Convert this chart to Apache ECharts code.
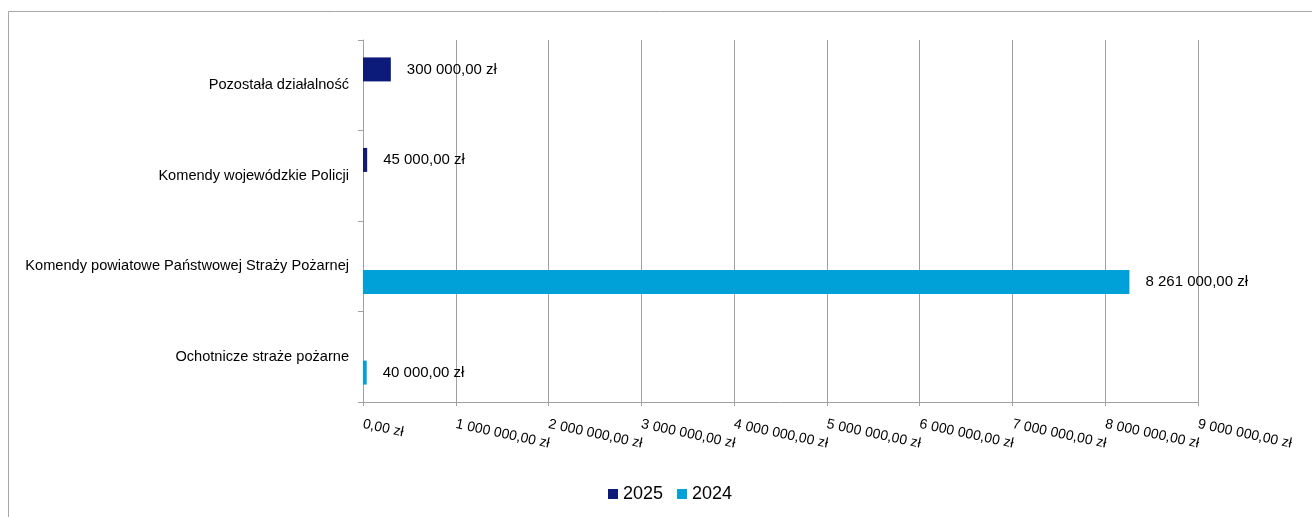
<!DOCTYPE html>
<html><head><meta charset="utf-8">
<script src="https://cdn.jsdelivr.net/npm/echarts@6/dist/echarts.min.js"></script>
<style>html,body{margin:0;padding:0;background:#fff}#c{width:1312px;height:517px}</style>
</head><body><div id="c"></div>
<script>
const categories = ['Ochotnicze straże pożarne', 'Komendy powiatowe Państwowej Straży Pożarnej', 'Komendy wojewódzkie Policji', 'Pozostała działalność'];
const seriesNames = ['2025', '2024'];
const values2025 = [null, null, 45000, 300000];
const values2024 = [40000, 8261000, null, null];
const xMax = 9000000;
const xInterval = 1000000;

function fmt(v) {
  const s = Math.round(v).toString().replace(/\B(?=(\d{3})+(?!\d))/g, ' ');
  return s + ',00 zł';
}
const font = 'Liberation Sans, Arial, sans-serif';
const chart = echarts.init(document.getElementById('c'), null, {renderer: 'canvas'});
chart.setOption({
  animation: false,
  graphic: [{type: 'rect', shape: {x: 8.5, y: 11.5, width: 1400, height: 600}, style: {fill: 'none', stroke: '#a6a6a6', lineWidth: 1}, silent: true}],
  grid: {left: 363, right: 114, top: 40, bottom: 115},
  legend: {
    data: seriesNames, left: 603, top: 480, itemWidth: 10, itemHeight: 10, itemGap: 14,
    icon: 'rect', textStyle: {fontFamily: font, fontSize: 18, color: '#000'}
  },
  xAxis: {
    type: 'value', min: 0, max: xMax, interval: xInterval,
    axisLine: {show: true, lineStyle: {color: '#a0a0a0'}},
    axisTick: {show: true, length: 4, lineStyle: {color: '#a0a0a0'}},
    splitLine: {show: true, lineStyle: {color: '#a0a0a0'}},
    axisLabel: {rotate: -12, margin: 22, fontFamily: font, fontSize: 14, color: '#000', formatter: fmt}
  },
  yAxis: {
    type: 'category', data: categories,
    axisLine: {show: true, lineStyle: {color: '#a0a0a0'}},
    axisTick: {show: true, length: 5, lineStyle: {color: '#a0a0a0'}},
    axisLabel: {margin: 14, fontFamily: font, fontSize: 14.6, color: '#000'}
  },
  series: [
    {name: '2025', type: 'bar', data: values2025, barWidth: 24, barGap: '32%', itemStyle: {color: '#0c1a7a'},
     label: {show: true, position: 'right', distance: 16, fontFamily: font, fontSize: 15, color: '#000', formatter: p => fmt(p.value)}},
    {name: '2024', type: 'bar', data: values2024, barWidth: 24, barGap: '32%', itemStyle: {color: '#00a0d8'},
     label: {show: true, position: 'right', distance: 16, fontFamily: font, fontSize: 15, color: '#000', formatter: p => fmt(p.value)}}
  ]
});
</script></body></html>
